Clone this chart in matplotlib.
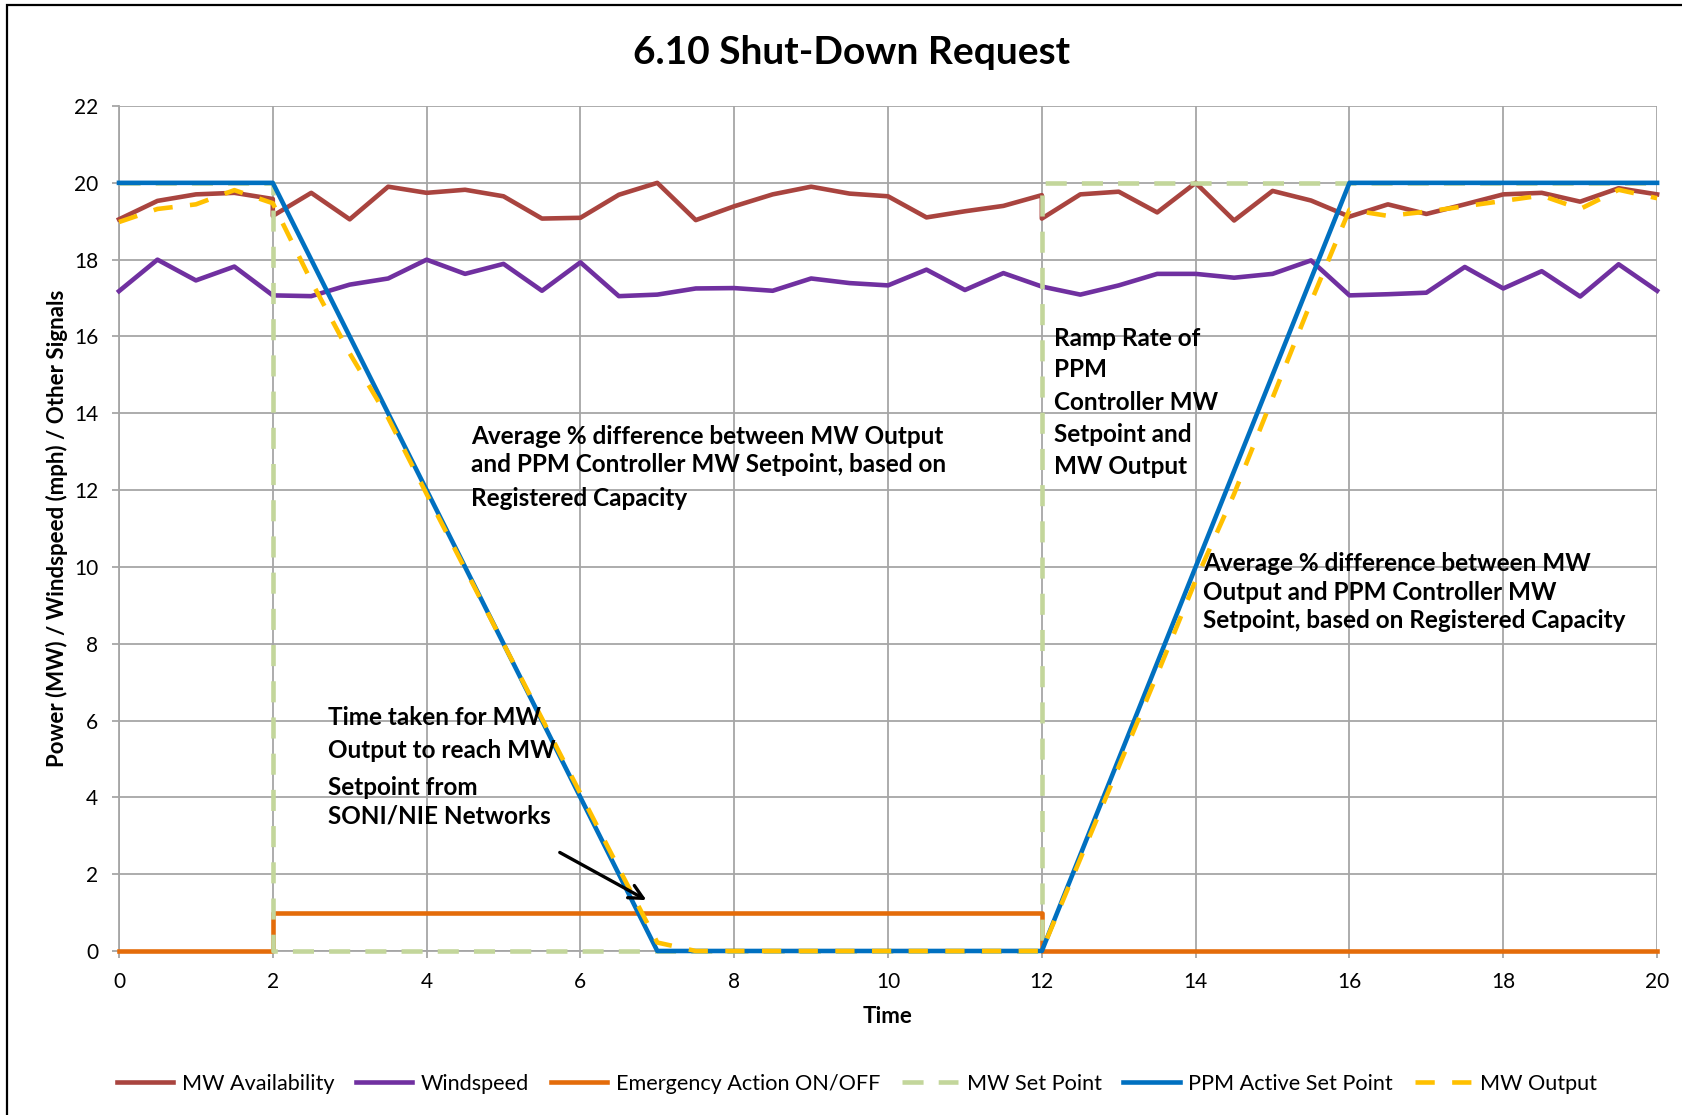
import numpy as np
import matplotlib
matplotlib.use("Agg")
from matplotlib import pyplot as plt
from matplotlib.patches import Rectangle

plt.rcParams['font.family'] = ['Lato', 'DejaVu Sans']

# Half-second sample grid used by the measured signals
time = np.arange(0, 20.5, 0.5)

# MW availability has a repeated sample at the request start/end (t=2 and t=12)
avail_time = [0, 0.5, 1, 1.5, 2, 2, 2.5, 3, 3.5, 4, 4.5, 5, 5.5, 6, 6.5, 7, 7.5, 8, 8.5, 9, 9.5,
              10, 10.5, 11, 11.5, 12, 12, 12.5, 13, 13.5, 14, 14.5, 15, 15.5, 16, 16.5, 17, 17.5,
              18, 18.5, 19, 19.5, 20]
mw_availability = [19.05, 19.53, 19.70, 19.74, 19.58, 19.14, 19.74, 19.05, 19.90, 19.74, 19.82,
                   19.65, 19.07, 19.09, 19.69, 20.00, 19.03, 19.39, 19.70, 19.90, 19.72, 19.65,
                   19.10, 19.26, 19.40, 19.68, 19.07, 19.70, 19.77, 19.23, 20.00, 19.02, 19.79,
                   19.54, 19.12, 19.44, 19.19, 19.44, 19.70, 19.74, 19.51, 19.86, 19.70]

windspeed = [17.18, 18.00, 17.46, 17.82, 17.07, 17.05, 17.35, 17.51, 18.00, 17.63, 17.89, 17.19,
             17.93, 17.05, 17.09, 17.25, 17.26, 17.19, 17.51, 17.39, 17.33, 17.74, 17.21, 17.65,
             17.30, 17.09, 17.33, 17.63, 17.63, 17.53, 17.63, 17.98, 17.07, 17.10, 17.14, 17.81,
             17.25, 17.70, 17.04, 17.88, 17.19]

emergency_time = [0, 2, 2, 12, 12, 20]
emergency_action = [0, 0, 1, 1, 0, 0]

setpoint_time = [0, 2, 2, 12, 12, 20]
mw_setpoint = [20, 20, 0, 0, 20, 20]

ppm_time = [0, 2, 7, 12, 16, 20]
ppm_setpoint = [20, 20, 0, 0, 20, 20]

mw_output = [18.98, 19.32, 19.44, 19.81, 19.47, 17.44, 15.56, 13.88, 11.90, 9.95, 8.00, 6.05,
             4.10, 2.15, 0.22, 0.00, 0.00, 0.00, 0.00, 0.00, 0.00, 0.00, 0.00, 0.00, 0.00,
             2.40, 4.80, 7.20, 9.65, 11.90, 14.40, 16.90, 19.30, 19.14, 19.25, 19.39, 19.53,
             19.67, 19.32, 19.82, 19.60]

fig = plt.figure(figsize=(16.83, 11.15), dpi=100)
ax = fig.add_axes([0.0707, 0.1471, 0.9139, 0.7578])

lw = 3.3
style = dict(lw=lw, clip_on=False)
ax.plot(avail_time, mw_availability, color='#A9443F', label='MW Availability', **style)
ax.plot(time, windspeed, color='#7030A0', label='Windspeed', **style)
ax.plot(emergency_time, emergency_action, color='#E46C0A', label='Emergency Action ON/OFF', **style)
ax.plot(setpoint_time, mw_setpoint, color='#C3D69B', dashes=(4.6, 3.3),
        label='MW Set Point', **style)
ax.plot(ppm_time, ppm_setpoint, color='#0070C0', label='PPM Active Set Point', **style)
ax.plot(time, mw_output, color='#FFC000', dashes=(4.2, 3.8), label='MW Output', **style)

ax.set_xlim(0, 20)
ax.set_ylim(0, 22)
ax.set_xticks(range(0, 21, 2))
ax.set_yticks(range(0, 23, 2))
ax.grid(True, color='#A6A6A6', lw=1.3)
ax.set_axisbelow(True)
for side in ['top', 'right']:
    ax.spines[side].set_visible(False)
for side in ['left', 'bottom']:
    ax.spines[side].set_color('#A6A6A6')
    ax.spines[side].set_linewidth(1.3)
    ax.spines[side].set_zorder(0.5)
ax.tick_params(length=5, width=1.3, color='#A6A6A6', labelsize=15, pad=10)

fig.text(0.506, 1 - 52 / 1115, '6.10 Shut-Down Request', fontsize=28, fontweight='bold',
         ha='center', va='center')
ax.set_xlabel('Time', fontsize=16, fontweight='bold', labelpad=10)
ax.set_ylabel('Power (MW) / Windspeed (mph) / Other Signals', fontsize=16,
              fontweight='bold', labelpad=4)

# Explanatory notes placed line by line, as laid out in the original text boxes
notes = [
    (4.575, [13.39, 12.66, 11.77], ['Average % difference between MW Output',
                                    'and PPM Controller MW Setpoint, based on',
                                    'Registered Capacity']),
    (12.16, [15.96, 15.15, 14.29, 13.45, 12.61], ['Ramp Rate of', 'PPM', 'Controller MW',
                                                  'Setpoint and', 'MW Output']),
    (14.10, [10.09, 9.34, 8.61], ['Average % difference between MW',
                                  'Output and PPM Controller MW',
                                  'Setpoint, based on Registered Capacity']),
    (2.72, [6.07, 5.23, 4.25, 3.52], ['Time taken for MW', 'Output to reach MW',
                                      'Setpoint from', 'SONI/NIE Networks']),
]
for x, ys, lines in notes:
    for y, line in zip(ys, lines):
        ax.text(x, y, line, fontsize=17.5, fontweight='bold', ha='left', va='center')

ax.annotate('', xy=(6.89, 1.29), xytext=(5.70, 2.60),
            arrowprops=dict(arrowstyle='->,head_length=1.0,head_width=0.5', color='black', lw=2.4))

fig.legend(loc='center', bbox_to_anchor=(0.509, 0.028), ncol=6, frameon=False, fontsize=15.6,
           handlelength=2.6, handletextpad=0.4, columnspacing=1.0)

# chart-area frame (left and top edges only show inside the image)
fig.add_artist(Rectangle((7 / 1683, -0.2), 1.5, 1.2 - 5 / 1115, transform=fig.transFigure,
                         fill=False, edgecolor='black', lw=1.6))

fig.savefig('out.png', dpi=100)
